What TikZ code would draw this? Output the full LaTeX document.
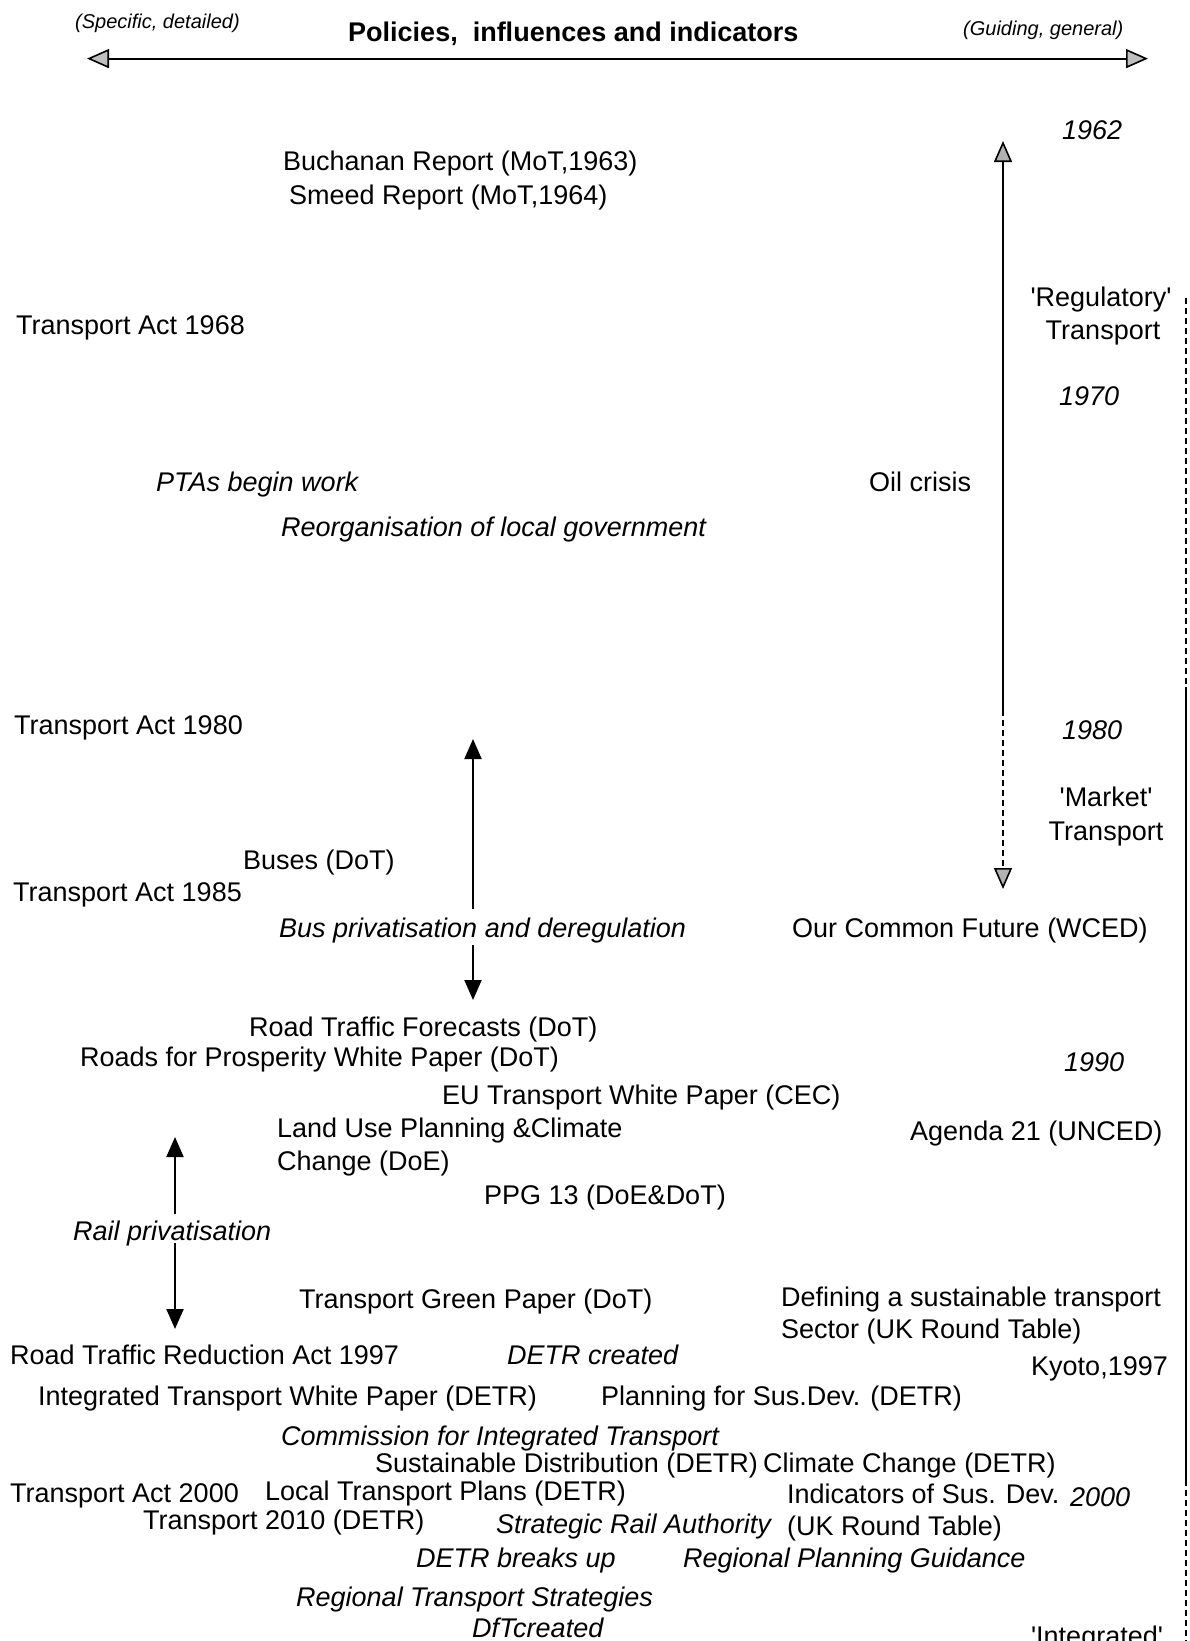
\documentclass[tikz,border=0pt]{standalone}
\usepackage{fontspec}
\setmainfont{Liberation Sans}
\usetikzlibrary{arrows.meta}
\newcommand{\sq}{\textquotesingle}
\tikzset{
  txt/.style={anchor=base west, inner sep=0pt, font=\fontsize{27}{32}\selectfont},
  itx/.style={txt, font=\fontsize{27}{32}\selectfont\itshape},
  ctx/.style={anchor=base, inner sep=0pt, font=\fontsize{27}{32}\selectfont},
  small/.style={anchor=base west, inner sep=0pt, font=\fontsize{20}{24}\selectfont\itshape},
  ttl/.style={anchor=base west, inner sep=0pt, font=\fontsize{27}{32}\selectfont\bfseries},
  arr/.style={line width=2pt},
  opentip/.style={-{Triangle[length=22pt, width=19pt, fill=gray!50, line width=1.6pt]}},
  graytip/.style={-{Triangle[length=21pt, width=18pt, fill=gray!60, line width=1.6pt]}},
  filltip/.style={-{Triangle[length=20pt, width=17pt]}},
  border/.style={line width=1.5pt},
  dsh/.style={dash pattern=on 6pt off 4pt}
}
\begin{document}
\begin{tikzpicture}[x=1pt, y=-1pt]
\useasboundingbox (0,0) rectangle (1190,1641);
\clip (0,0) rectangle (1190,1641);

% header
\node[small] (spec) at (75,28) {(Specific, detailed)};
\node[ttl] (title) at (348,41) {Policies,\ \ influences and indicators};
\node[small] (guid) at (963,35) {(Guiding, general)};
\coordinate (hl) at (87,58.6);
\coordinate (hr) at (1148,58.6);
\coordinate (hm) at (620,58.6);
\draw[arr, opentip] (hm) -- (hl);
\draw[arr, opentip] (hm) -- (hr);

% right column
\node[itx] (y62) at (1062,139) {1962};
\node[ctx] (reg1) at (1101,306) {\sq Regulatory\sq};
\node[ctx] (reg2) at (1103,339) {Transport};
\node[itx] (y70) at (1059,405) {1970};
\node[itx] (y80) at (1062,739) {1980};
\node[ctx] (mkt1) at (1106,806) {\sq Market\sq};
\node[ctx] (mkt2) at (1106,840) {Transport};
\node[itx] (y90) at (1064,1071) {1990};
\node[ctx] (int1) at (1097,1645) {\sq Integrated\sq};

\coordinate (vt) at (1003,141);
\coordinate (vm) at (1003,710);
\coordinate (vb) at (1003,889);
\draw[arr, graytip] (vm) -- (vt);
\draw[arr, dsh, graytip] (vm) -- (vb);

% border line on the right
\coordinate (b1) at (1186,298);
\coordinate (b2) at (1186,687);
\coordinate (b3) at (1186,1480);
\coordinate (b4) at (1186,1641);
\draw[border, dsh] (b1) -- (b2);
\draw[border] (b2) -- (b3);
\draw[border, dsh] (b3) -- (b4);

% texts
\node[txt] (buch) at (283,170) {Buchanan Report (MoT,1963)};
\node[txt] (smeed) at (289,204) {Smeed Report (MoT,1964)};
\node[txt] (ta68) at (16,334) {Transport Act 1968};
\node[itx] (pta) at (156,491) {PTAs begin work};
\node[txt] (oil) at (869,491) {Oil crisis};
\node[itx] (reorg) at (281,536) {Reorganisation of local government};
\node[txt] (ta80) at (14,734) {Transport Act 1980};
\node[txt] (buses) at (243,869) {Buses (DoT)};
\node[txt] (ta85) at (13,901) {Transport Act 1985};
\node[itx] (busp) at (279,937) {Bus privatisation and deregulation};
\node[txt] (ocf) at (792,937) {Our Common Future (WCED)};
\node[txt] (rtf) at (249,1036) {Road Traffic Forecasts (DoT)};
\node[txt] (rfp) at (80,1066) {Roads for Prosperity White Paper (DoT)};
\node[txt] (eutw) at (442,1104) {EU Transport White Paper (CEC)};
\node[txt] (lup1) at (277,1137) {Land Use Planning \&Climate};
\node[txt] (lup2) at (277,1170) {Change (DoE)};
\node[txt] (ag21) at (910,1140) {Agenda 21 (UNCED)};
\node[txt] (ppg) at (484,1204) {PPG 13 (DoE\&DoT)};
\node[itx] (railp) at (73,1240) {Rail privatisation};
\node[txt] (tgp) at (299,1308) {Transport Green Paper (DoT)};
\node[txt] (def1) at (781,1306) {Defining a sustainable transport};
\node[txt] (def2) at (781,1338) {Sector (UK Round Table)};
\node[txt] (rtra) at (10,1364) {Road Traffic Reduction Act 1997};
\node[itx] (detrc) at (507,1364) {DETR created};
\node[txt] (kyoto) at (1031,1375) {Kyoto,1997};
\node[txt] (itwp) at (38,1405) {Integrated Transport White Paper (DETR)};
\node[txt] (psd) at (601,1405) {Planning for Sus.Dev. (DETR)};
\node[itx] (cit) at (281,1445) {Commission for Integrated Transport};
\node[txt] (sdist) at (375,1472) {Sustainable Distribution (DETR)};
\node[txt] (cc) at (763,1472) {Climate Change (DETR)};
\node[txt] (ta00) at (10,1502) {Transport Act 2000};
\node[txt] (ltp) at (265,1500) {Local Transport Plans (DETR)};
\node[txt] (isd1) at (787,1503) {Indicators of Sus. Dev.};
\node[itx] (y00) at (1070,1506) {2000};
\node[txt] (t2010) at (143,1529) {Transport 2010 (DETR)};
\node[itx] (sra) at (496,1533) {Strategic Rail Authority};
\node[txt] (isd2) at (787,1535) {(UK Round Table)};
\node[itx] (detrb) at (416,1567) {DETR breaks up};
\node[itx] (rpg) at (683,1567) {Regional Planning Guidance};
\node[itx] (rts) at (296,1606) {Regional Transport Strategies};
\node[itx] (dft) at (472,1637) {DfTcreated};

% bus arrows
\coordinate (bu1) at (473,909);
\coordinate (bu2) at (473,739);
\coordinate (bd1) at (473,945);
\coordinate (bd2) at (473,1000);
\draw[arr, filltip] (bu1) -- (bu2);
\draw[arr, filltip] (bd1) -- (bd2);

% rail arrows
\coordinate (ru1) at (175,1214);
\coordinate (ru2) at (175,1137);
\coordinate (rd1) at (175,1243);
\coordinate (rd2) at (175,1329);
\draw[arr, filltip] (ru1) -- (ru2);
\draw[arr, filltip] (rd1) -- (rd2);
\end{tikzpicture}
\end{document}
